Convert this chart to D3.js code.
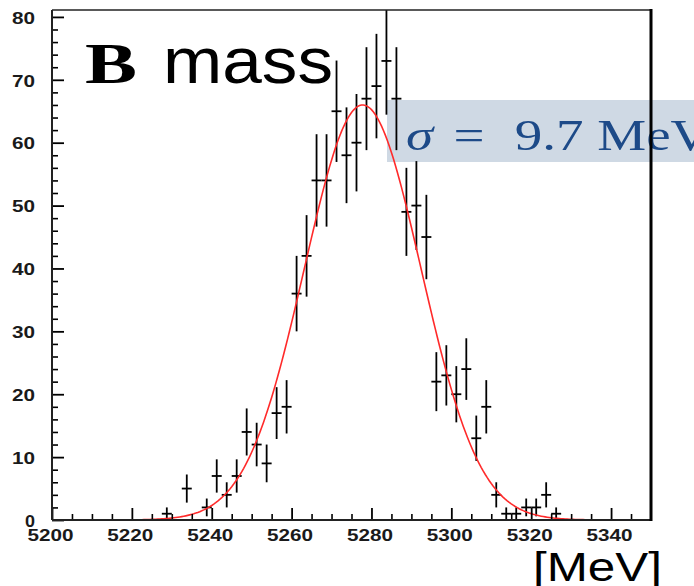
<!DOCTYPE html>
<html>
<head>
<meta charset="utf-8">
<script src="https://cdn.jsdelivr.net/npm/d3@7"></script>
<style>
  html, body { margin: 0; padding: 0; background: #fff; }
  svg { display: block; }
</style>
</head>
<body>
<svg id="chart" width="694" height="586"></svg>
<script>
// Reconstructed B candidate mass histogram (2.5 MeV bins) with Gaussian fit
const binCenters = [5228.75, 5233.75, 5238.75, 5241.25, 5243.75, 5246.25, 5248.75, 5251.25,
  5253.75, 5256.25, 5258.75, 5261.25, 5263.75, 5266.25, 5268.75, 5271.25, 5273.75, 5276.25,
  5278.75, 5281.25, 5283.75, 5286.25, 5288.75, 5291.25, 5293.75, 5296.25, 5298.75, 5301.25,
  5303.75, 5306.25, 5308.75, 5311.25, 5313.75, 5316.25, 5318.75, 5321.25, 5323.75, 5326.25];
const counts = [1, 5, 2, 7, 4, 7, 14, 12,
  9, 17, 18, 36, 42, 54, 54, 65, 58, 60,
  67, 69, 73, 67, 49, 50, 45, 22, 23, 20,
  24, 13, 18, 4, 1, 1, 2, 2, 4, 1];
const binWidth = 2.5;

// Fitted curve parameters (amplitude in entries/bin, mean and width in MeV)
const fitAmplitude = [66];
const fitMean = [5277.8];
const fitWidth = [14.6];

const xTicks = [5200, 5220, 5240, 5260, 5280, 5300, 5320, 5340];
const yTicks = [0, 10, 20, 30, 40, 50, 60, 70, 80];
const resolutionLabel = ["σ", "=", "9.7", "MeV"];

const svg = d3.select("#chart");
const plotL = 52, plotR = 651, plotT = 10, plotB = 520;

const x = d3.scaleLinear().domain([5200, 5350]).range([plotL, plotR]);
const y = d3.scaleLinear().domain([0, 81.1]).range([plotB, plotT]);

svg.append("defs").append("clipPath").attr("id", "plotClip")
  .append("rect").attr("x", plotL).attr("y", plotT)
  .attr("width", plotR - plotL).attr("height", plotB - plotT);

// Title
svg.append("text").attr("x", 85).attr("y", 83)
  .attr("font-family", "Liberation Serif, serif").attr("font-weight", "bold")
  .attr("font-size", 56).attr("textLength", 52).attr("lengthAdjust", "spacingAndGlyphs")
  .attr("fill", "#000").text("B");
svg.append("text").attr("x", 163).attr("y", 83)
  .attr("font-family", "Liberation Sans, Arial, sans-serif")
  .attr("font-size", 64).attr("textLength", 170).attr("lengthAdjust", "spacingAndGlyphs")
  .attr("fill", "#000").text("mass");

// Resolution box (text is widened horizontally like the rest of the canvas)
svg.append("rect").attr("x", 387).attr("y", 100).attr("width", 330).attr("height", 62)
  .attr("fill", "#cfd9e4");
const res = svg.append("text").attr("transform", "translate(406,150) scale(1.25,1)")
  .attr("font-family", "Liberation Serif, serif").attr("font-size", 44)
  .attr("fill", "#1d4a88");
res.append("tspan").attr("x", 0).attr("font-style", "italic").text(resolutionLabel[0]);
res.append("tspan").attr("x", 38).text(resolutionLabel[1]);
res.append("tspan").attr("x", 87).text(resolutionLabel[2]);
res.append("tspan").attr("x", 153).text(resolutionLabel[3]);

// Data points with Poisson error bars and bin-width markers
const pts = binCenters.map((c, i) => ({ m: c, n: counts[i], e: Math.sqrt(counts[i]) }));
const data = svg.append("g").attr("clip-path", "url(#plotClip)")
  .attr("stroke", "#000").attr("stroke-width", 1.8);
data.selectAll("line.ey").data(pts).join("line").attr("class", "ey")
  .attr("x1", d => x(d.m)).attr("x2", d => x(d.m))
  .attr("y1", d => y(d.n - d.e)).attr("y2", d => y(d.n + d.e));
data.selectAll("line.ex").data(pts).join("line").attr("class", "ex")
  .attr("x1", d => x(d.m - binWidth / 2)).attr("x2", d => x(d.m + binWidth / 2))
  .attr("y1", d => y(d.n)).attr("y2", d => y(d.n));

// Gaussian fit curve
const curveX = d3.range(5200, 5350.01, 0.5);
const gauss = m => fitAmplitude[0] * Math.exp(-0.5 * Math.pow((m - fitMean[0]) / fitWidth[0], 2));
svg.append("path").attr("clip-path", "url(#plotClip)")
  .datum(curveX)
  .attr("fill", "none").attr("stroke", "#ff2a2a").attr("stroke-width", 1.6)
  .attr("d", d3.line().x(m => x(m)).y(m => y(gauss(m))));

// Axes
const labelFont = "Liberation Sans, Arial, sans-serif";
const yMinor = d3.range(0, 81, 2).filter(v => v % 10 !== 0);
const xMinor = d3.range(5200, 5350, 5).filter(v => v % 20 !== 0);

svg.append("g").attr("transform", `translate(${plotL},0)`)
  .call(d3.axisLeft(y).tickValues(yMinor).tickSize(-6).tickFormat(""))
  .call(g => g.select(".domain").remove())
  .selectAll("line").attr("stroke", "#000").attr("stroke-width", 1.6);
svg.append("g").attr("transform", `translate(${plotL},0)`)
  .call(d3.axisLeft(y).tickValues(yTicks).tickSize(-12).tickPadding(17))
  .call(g => g.select(".domain").remove())
  .call(g => g.selectAll("line").attr("stroke", "#000").attr("stroke-width", 1.8))
  .call(g => g.selectAll("text")
    .attr("font-family", labelFont).attr("font-weight", "bold").attr("font-size", 16.5)
    .attr("fill", "#1a1a1a").attr("dy", "0.38em")
    .attr("textLength", d => d === 0 ? 10 : 23).attr("lengthAdjust", "spacingAndGlyphs"));

svg.append("g").attr("transform", `translate(0,${plotB})`)
  .call(d3.axisBottom(x).tickValues(xMinor).tickSize(-6).tickFormat(""))
  .call(g => g.select(".domain").remove())
  .selectAll("line").attr("stroke", "#000").attr("stroke-width", 1.6);
svg.append("g").attr("transform", `translate(-2,${plotB})`)
  .call(d3.axisBottom(x).tickValues(xTicks).tickSize(-12).tickPadding(9).tickFormat(d3.format("d")))
  .call(g => g.select(".domain").remove())
  .call(g => g.selectAll("line").attr("transform", "translate(2,0)")
    .attr("stroke", "#000").attr("stroke-width", 1.8))
  .call(g => g.selectAll("text")
    .attr("font-family", labelFont).attr("font-weight", "bold").attr("font-size", 16.5)
    .attr("fill", "#1a1a1a").attr("dy", "0.71em")
    .attr("textLength", 46).attr("lengthAdjust", "spacingAndGlyphs"));

// Frame
svg.append("line").attr("x1", plotL).attr("x2", plotR).attr("y1", plotT).attr("y2", plotT)
  .attr("stroke", "#222").attr("stroke-width", 1.5);
svg.append("line").attr("x1", plotL).attr("x2", plotL).attr("y1", plotT).attr("y2", plotB)
  .attr("stroke", "#222").attr("stroke-width", 2);
svg.append("line").attr("x1", plotL).attr("x2", plotR).attr("y1", plotB).attr("y2", plotB)
  .attr("stroke", "#222").attr("stroke-width", 2);
svg.append("line").attr("x1", plotR).attr("x2", plotR).attr("y1", plotT - 1).attr("y2", plotB + 1)
  .attr("stroke", "#000").attr("stroke-width", 3);

// Axis unit
svg.append("text").attr("x", 533).attr("y", 581)
  .attr("font-family", labelFont).attr("font-size", 41)
  .attr("textLength", 129).attr("lengthAdjust", "spacingAndGlyphs")
  .attr("fill", "#000").text("[MeV]");
</script>
</body>
</html>
